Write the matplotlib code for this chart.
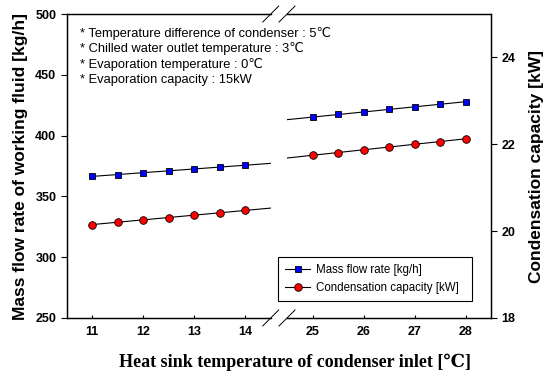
import numpy as np
import matplotlib
matplotlib.use('Agg')
import matplotlib.pyplot as plt
from matplotlib.lines import Line2D

# data (two x ranges, broken axis)
temp_low = [11, 11.5, 12, 12.5, 13, 13.5, 14]
temp_high = [25, 25.5, 26, 26.5, 27, 27.5, 28]
mass_low = [366.5, 368.0, 369.5, 371.0, 372.6, 374.1, 375.7]
mass_high = [415.3, 417.4, 419.4, 421.5, 423.6, 425.8, 428.0]
cap_low = [20.15, 20.21, 20.26, 20.31, 20.37, 20.42, 20.48]
cap_high = [21.75, 21.81, 21.87, 21.94, 22.00, 22.06, 22.13]

notes = ['* Temperature difference of condenser : 5\u2103',
         '* Chilled water outlet temperature : 3\u2103',
         '* Evaporation temperature : 0\u2103',
         '* Evaporation capacity : 15kW']

plt.rcParams['font.family'] = ['Liberation Sans', 'DejaVu Sans']

fig = plt.figure(figsize=(5.49, 3.72), dpi=100)
axL = fig.add_axes([0.1215, 0.1452, 0.3716, 0.817])
axR = fig.add_axes([0.5228, 0.1452, 0.3716, 0.817])
axL2 = axL.twinx()
axR2 = axR.twinx()

sq = dict(marker='s', ms=5, mfc='#0000ff', mec='black', mew=0.6, ls='none', zorder=5)
ci = dict(marker='o', ms=5.5, mfc='#ff0000', mec='black', mew=0.6, ls='none', zorder=5)

def fit_line(ax, x, y, x0, x1):
    p = np.polyfit(x, y, 1)
    xs = np.array([x0, x1])
    ax.plot(xs, np.polyval(p, xs), color='black', lw=0.8, zorder=3)

# left segment
axL.plot(temp_low, mass_low, **sq)
fit_line(axL, temp_low, mass_low, 11, 14.5)
axL2.plot(temp_low, cap_low, **ci)
fit_line(axL2, temp_low, cap_low, 11, 14.5)
# right segment
axR.plot(temp_high, mass_high, **sq)
fit_line(axR, temp_high, mass_high, 24.5, 28)
axR2.plot(temp_high, cap_high, **ci)
fit_line(axR2, temp_high, cap_high, 24.5, 28)

for ax in (axL, axR):
    ax.set_ylim(250, 500)
for ax in (axL2, axR2):
    ax.set_ylim(18, 25)
axL.set_xlim(10.5, 14.5)
axR.set_xlim(24.5, 28.5)
for ax in (axL2, axR2):
    ax.set_xlim(ax.get_xlim())

axL.set_xticks([11, 12, 13, 14])
axR.set_xticks([25, 26, 27, 28])
axL.set_yticks([250, 300, 350, 400, 450, 500])
axR2.set_yticks([18, 20, 22, 24])

for ax in (axL, axR, axL2, axR2):
    for s in ax.spines.values():
        s.set_linewidth(0.9)
    ax.tick_params(labelsize=9, width=0.8)
    for lab in ax.get_xticklabels() + ax.get_yticklabels():
        lab.set_fontweight('bold')

axL.spines['right'].set_visible(False)
axL2.spines['right'].set_visible(False)
axR.spines['left'].set_visible(False)
axR2.spines['left'].set_visible(False)
axR.tick_params(left=False, labelleft=False)
axR.tick_params(axis='x', direction='in', length=2, pad=6)
axL.tick_params(axis='x', direction='in', length=2, pad=6)
axL.tick_params(axis='y', direction='out', length=4)
axL2.tick_params(right=False, labelright=False)
axR2.tick_params(axis='y', direction='out', length=4)

axL.set_ylabel('Mass flow rate of working fluid [kg/h]', fontsize=12.5,
               fontweight='bold', labelpad=5)
axR2.set_ylabel('Condensation capacity [kW]', fontsize=12.5,
                fontweight='bold', labelpad=10)
fig.text(0.538, 0.027, 'Heat sink temperature of condenser inlet [\u2103]',
         ha='center', va='center', fontsize=13, fontweight='bold',
         family=['Liberation Serif', 'DejaVu Serif'])

for i, t in enumerate(notes):
    fig.text(80 / 549, 1 - (33 + i * 15.7) / 372, t, fontsize=9.3,
             va='center', ha='left')

# break marks
d = 8 / 549
for ax, xa in ((axL, 1), (axR, 0)):
    for ya in (0, 1):
        x0, y0 = ax.transAxes.transform((xa, ya))
        x0, y0 = fig.transFigure.inverted().transform((x0, y0))
        fig.add_artist(Line2D([x0 - d, x0 + d], [y0 - d * 549 / 372, y0 + d * 549 / 372],
                              color='black', lw=0.7))

handles = [Line2D([], [], color='black', lw=0.8, marker='s', ms=5, mfc='#0000ff', mec='black', mew=0.6),
           Line2D([], [], color='black', lw=0.8, marker='o', ms=5.5, mfc='#ff0000', mec='black', mew=0.6)]
leg = fig.legend(handles, ['Mass flow rate [kg/h]', 'Condensation capacity [kW]'],
                 loc='lower left', bbox_to_anchor=(278 / 549, 1 - 301 / 372, 194 / 549, 47 / 372),
                 mode='expand', fontsize=8.3, fancybox=False, edgecolor='black',
                 framealpha=1, handlelength=2.2, handletextpad=0.5,
                 labelspacing=0.5, borderpad=0.6, borderaxespad=0)
leg.get_frame().set_linewidth(0.8)

fig.savefig('out.png', dpi=100)
